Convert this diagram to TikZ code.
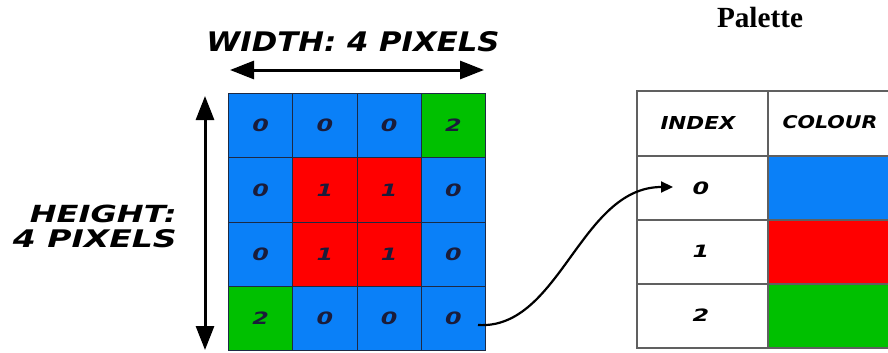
\documentclass[tikz,border=0pt]{standalone}
\usepackage{fontspec}
\usepackage{graphicx}
\setmainfont{Liberation Serif}
\newfontfamily\comic{DejaVu Sans}
\usetikzlibrary{arrows.meta}
\definecolor{pblue}{HTML}{0A80F8}
\definecolor{pred}{HTML}{FF0000}
\definecolor{pgreen}{HTML}{00C000}
\definecolor{ink}{HTML}{1A1C3A}
\definecolor{gridline}{HTML}{1E2A44}
\definecolor{tabline}{HTML}{606060}
\newcommand{\dg}[1]{\scalebox{1.4}[1]{#1}}
\tikzset{
  cell/.style={draw=gridline, line width=1pt, minimum width=64.25pt, minimum height=64.25pt, inner sep=0pt, anchor=north west, text=ink, font=\comic\bfseries\itshape\fontsize{17}{17}\selectfont},
  tcell/.style={draw=tabline, line width=1.5pt, inner sep=0pt, anchor=north west},
  lbl/.style={inner sep=0pt, font=\comic\bfseries\itshape, text=black},
  tdig/.style={inner sep=0pt, text=black, font=\comic\bfseries\itshape\fontsize{17}{17}\selectfont},
  dimarrow/.style={line width=3pt, {Triangle[length=24pt,width=18pt]}-{Triangle[length=24pt,width=18pt]}},
  link/.style={line width=2.2pt, -{Triangle[length=12pt,width=11pt]}},
}
\begin{document}
\begin{tikzpicture}[x=1pt,y=-1pt]
\useasboundingbox (0,0) rectangle (888,353);
% title
\node[inner sep=0pt] (title) at (760,18) {\resizebox{86pt}{!}{\bfseries Palette}};
% dimension labels
\node[lbl] (wlbl) at (353,42) {\resizebox{293pt}{20pt}{WIDTH: 4 PIXELS}};
\node[lbl, anchor=east] (hlbl1) at (177,213.5) {\resizebox{147pt}{17.5pt}{HEIGHT:}};
\node[lbl, anchor=east] (hlbl2) at (177,238.5) {\resizebox{164pt}{18pt}{4 PIXELS}};
% grid
\foreach \r/\row in {1/{pblue/0,pblue/0,pblue/0,pgreen/2},
                     2/{pblue/0,pred/1,pred/1,pblue/0},
                     3/{pblue/0,pred/1,pred/1,pblue/0},
                     4/{pgreen/2,pblue/0,pblue/0,pblue/0}}{
  \foreach \col/\v [count=\c] in \row {
    \node[cell, fill=\col] (c\r\c) at ({228+(\c-1)*64.25},{93+(\r-1)*64.25}) {\dg{\v}};
  }
}
% dimension arrows
\coordinate (wl) at (230,70);
\coordinate (wr) at (484,70);
\coordinate (ht) at (205,96);
\coordinate (hb) at (205,350);
\draw[dimarrow] (wl) -- (wr);
\draw[dimarrow] (ht) -- (hb);
% palette table
\node[tcell, minimum width=131pt, minimum height=65pt] (hidx) at (636,90) {};
\node[tcell, minimum width=123pt, minimum height=65pt] (hcol) at (767,90) {};
\node[tcell, minimum width=131pt, minimum height=64pt] (i0) at (636,155) {};
\node[tcell, minimum width=123pt, minimum height=64pt, fill=pblue] (k0) at (767,155) {};
\node[tcell, minimum width=131pt, minimum height=64pt] (i1) at (636,219) {};
\node[tcell, minimum width=123pt, minimum height=64pt, fill=pred] (k1) at (767,219) {};
\node[tcell, minimum width=131pt, minimum height=64pt] (i2) at (636,283) {};
\node[tcell, minimum width=123pt, minimum height=64pt, fill=pgreen] (k2) at (767,283) {};
\node[lbl] (tidx) at (698,122.5) {\resizebox{75pt}{13pt}{INDEX}};
\node[lbl] (tcol) at (830,122.5) {\resizebox{95pt}{13pt}{COLOUR}};
\node[tdig] (d0) at (701,188) {\dg{0}};
\node[tdig] (d1) at (701,251) {\dg{1}};
\node[tdig] (d2) at (701,315) {\dg{2}};
% link
\coordinate (ls) at (478,325);
\coordinate (le) at (673,187);
\draw[link] (ls) .. controls (560,330) and (580,187) .. (le);
\end{tikzpicture}
\end{document}
